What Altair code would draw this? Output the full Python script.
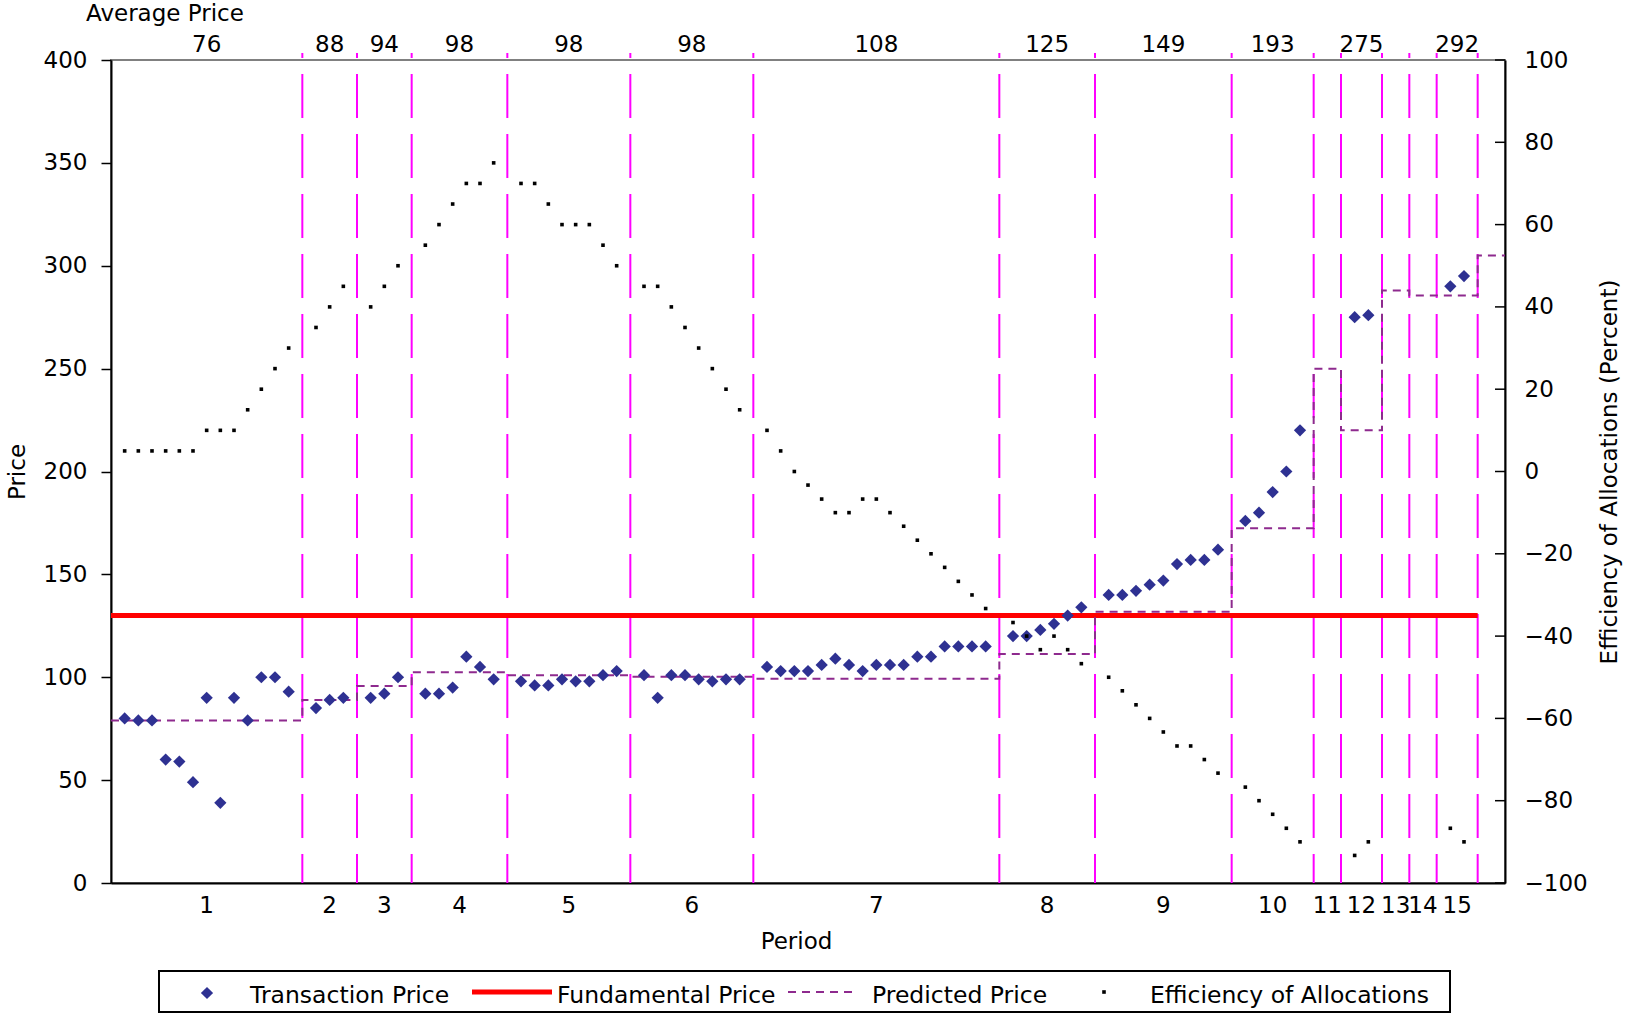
import altair as alt
import pandas as pd

# ---- data -------------------------------------------------------------
# Trade-sequence slots where each period ends (dashed dividers)
period_ends = [14, 18, 22, 29, 38, 47, 65, 72, 82, 88, 90, 93, 95, 97, 100]
period_names = [str(i) for i in range(1, 16)]
x_max = 102

# Transaction prices per period (empty = no trades in that period)
prices = [
    [80, 79, 79, 60, 59, 49, 90, 39, 90, 79, 100, 100, 93],
    [85, 89, 90],
    [90, 92, 100],
    [92, 92, 95, 110, 105, 99],
    [98, 96, 96, 99, 98, 98, 101, 103],
    [101, 90, 101, 101, 99, 98, 99, 99],
    [105, 103, 103, 103, 106, 109, 106, 103, 106, 106, 106, 110, 110, 115, 115, 115, 115],
    [120, 120, 123, 126, 130, 134],
    [140, 140, 142, 145, 147, 155, 157, 157, 162],
    [176, 180, 190, 200, 220],
    [],
    [275, 276],
    [],
    [],
    [290, 295],
]

# Efficiency of allocations (percent) after each trade
efficiency = [
    [5, 5, 5, 5, 5, 5, 10, 10, 10, 15, 20, 25, 30],
    [35, 40, 45],
    [40, 45, 50],
    [55, 60, 65, 70, 70, 75],
    [70, 70, 65, 60, 60, 60, 55, 50],
    [45, 45, 40, 35, 30, 25, 20, 15],
    [10, 5, 0, -3.3, -6.7, -10, -10, -6.7, -6.7, -10, -13.3, -16.7, -20, -23.3, -26.7, -30, -33.3],
    [-36.7, -40, -43.3, -40, -43.3, -46.7],
    [-50, -53.3, -56.7, -60, -63.3, -66.7, -66.7, -70, -73.3],
    [-76.7, -80, -83.3, -86.7, -90],
    [],
    [-93.3, -90],
    [],
    [],
    [-86.7, -90],
]

# Average transaction price shown above each period ("" = no trades)
average_labels = ["76", "88", "94", "98", "98", "98", "108", "125", "149", "193",
                  "", "275", "", "", "292"]

# Predicted price for each period, plus the level after the last divider
predicted_price = [79, 89, 95.7, 102.4, 101, 100.3, 99.3, 111.3, 131.8, 172.4,
                   250, 220, 288, 285.6, 285.6]
predicted_after = 305

fundamental_price = 130

price_ticks = list(range(0, 401, 50))
eff_ticks = list(range(-100, 101, 20))

# ---- tables -----------------------------------------------------------
starts = [0] + period_ends[:-1]
trade_rows = []
for start, pp, ee in zip(starts, prices, efficiency):
    for i, (p, e) in enumerate(zip(pp, ee)):
        trade_rows.append({"slot": start + 1 + i, "price": p, "eff": e})
trades_df = pd.DataFrame(trade_rows)

period_df = pd.DataFrame({
    "name": period_names,
    "center": [(a + b) / 2 for a, b in zip(starts, period_ends)],
    "avg": average_labels,
})
avg_df = period_df[period_df["avg"] != ""]

bound_df = pd.DataFrame({"slot": period_ends})
pred_df = pd.DataFrame({
    "slot": [0] + period_ends + [x_max],
    "price": predicted_price + [predicted_after, predicted_after],
})
fund_df = pd.DataFrame({"start": [0], "end": [period_ends[-1]], "price": [fundamental_price]})
eff_tick_df = pd.DataFrame({"tick": eff_ticks})
one = pd.DataFrame({"k": [0]})

# ---- styling ----------------------------------------------------------
W, H = 1394, 823
FONT = "DejaVu Sans"
FS = 23
LEG_FS = 23.5
NAVY = "#2E3192"
MAGENTA = "#FF00FF"
PURPLE = "#8E2A8E"
DIAMOND = 150
DOT = 13

x_scale = alt.Scale(domain=[0, x_max], nice=False, zero=False)
x_axis = alt.Axis(title="Period", labels=False, ticks=False, grid=False,
                  domainColor="black", domainWidth=2,
                  titleX=685, titleY=65, titleBaseline="alphabetic")
p_scale = alt.Scale(domain=[0, 400], nice=False)
p_axis = alt.Axis(title="Price", values=price_ticks, tickSize=10, tickWidth=1.5,
                  tickColor="black", labelPadding=14, grid=False,
                  domainColor="black", domainWidth=2,
                  titleX=-94, titleY=H / 2, titleAngle=270,
                  titleAlign="center", titleBaseline="middle")
e_scale = alt.Scale(domain=[-100, 100], nice=False)
e_axis = alt.Axis(title="Efficiency of Allocations (Percent)", orient="right",
                  values=eff_ticks, ticks=False, tickSize=0, labelPadding=19,
                  labelAlign="left", grid=False,
                  domainColor="black", domainWidth=2,
                  titleX=104, titleY=H / 2, titleAngle=270,
                  titleAlign="center", titleBaseline="middle")


def X(field):
    return alt.X(f"{field}:Q", scale=x_scale, axis=x_axis)


def P(field):
    return alt.Y(f"{field}:Q", scale=p_scale, axis=p_axis)


def E(field):
    return alt.Y(f"{field}:Q", scale=e_scale, axis=e_axis)


def label(text, x, y, size=FS, align="left"):
    return alt.Chart(one).mark_text(
        text=text, font=FONT, fontSize=size, color="black",
        align=align, baseline="alphabetic"
    ).encode(x=alt.value(x), y=alt.value(y))


# ---- price layers -----------------------------------------------------
dividers = alt.Chart(bound_df).mark_rule(
    color=MAGENTA, strokeWidth=2, strokeDash=[44, 16], strokeDashOffset=39
).encode(x=X("slot"), y=alt.value(-7), y2=alt.value(H))

fundamental = alt.Chart(fund_df).mark_rule(color="#FF0000", strokeWidth=5).encode(
    x=X("start"), x2="end", y=P("price")
)

predicted = alt.Chart(pred_df).mark_line(
    interpolate="step-after", color=PURPLE, strokeWidth=2, strokeDash=[8, 6]
).encode(x=X("slot"), y=P("price"))

transactions = alt.Chart(trades_df).mark_point(
    shape="diamond", filled=True, size=DIAMOND, color=NAVY, opacity=1
).encode(x=X("slot"), y=P("price"))

avg_text = alt.Chart(avg_df).mark_text(
    font=FONT, fontSize=FS, color="black", align="center", baseline="alphabetic"
).encode(x=X("center"), y=alt.value(-8), text="avg:N")

period_text = alt.Chart(period_df).mark_text(
    font=FONT, fontSize=FS, color="black", align="center", baseline="alphabetic"
).encode(x=X("center"), y=alt.value(H + 30), text="name:N")

avg_title = label("Average Price", -25, -39)

# ---- legend -----------------------------------------------------------
LY = 932
legend_box = alt.Chart(one).mark_rect(
    fillOpacity=0, stroke="black", strokeWidth=2
).encode(x=alt.value(48), x2=alt.value(1339), y=alt.value(911), y2=alt.value(952))
leg_diamond = alt.Chart(one).mark_point(
    shape="diamond", filled=True, size=DIAMOND, color=NAVY, opacity=1
).encode(x=alt.value(96), y=alt.value(LY + 1))
leg_red = alt.Chart(one).mark_rule(color="#FF0000", strokeWidth=5).encode(
    x=alt.value(361), x2=alt.value(441), y=alt.value(LY)
)
leg_pred = alt.Chart(one).mark_rule(color=PURPLE, strokeWidth=2, strokeDash=[8, 6]).encode(
    x=alt.value(677), x2=alt.value(745), y=alt.value(LY)
)
leg_dot = alt.Chart(one).mark_point(
    shape="square", filled=True, size=DOT, color="black", opacity=1
).encode(x=alt.value(993), y=alt.value(LY))
leg_texts = [
    label("Transaction Price", 139, 942.5, LEG_FS),
    label("Fundamental Price", 446, 942.5, LEG_FS),
    label("Predicted Price", 761, 942.5, LEG_FS),
    label("Efficiency of Allocations", 1039, 942.5, LEG_FS),
]

price_group = alt.layer(
    dividers, fundamental, predicted, transactions,
    avg_text, period_text, avg_title,
    legend_box, leg_diamond, leg_red, leg_pred, leg_dot, *leg_texts,
)

# ---- efficiency layers ------------------------------------------------
eff_dots = alt.Chart(trades_df).mark_point(
    shape="square", filled=True, size=DOT, color="black", opacity=1
).encode(x=X("slot"), y=E("eff"))

eff_tick_marks = alt.Chart(eff_tick_df).mark_rule(color="black", strokeWidth=1.5).encode(
    x=alt.value(W - 10), x2=alt.value(W), y=E("tick")
)

eff_group = alt.layer(eff_dots, eff_tick_marks)

chart = alt.layer(price_group, eff_group).resolve_scale(y="independent").properties(
    width=W,
    height=H,
    autosize=alt.AutoSizeParams(type="none"),
    padding={"left": 111, "top": 60, "right": 1627 - 111 - W, "bottom": 1016 - 60 - H},
    background="white",
).configure_view(
    stroke="#808080", strokeWidth=2
).configure_axis(
    labelFont=FONT, labelFontSize=FS, labelColor="black",
    titleFont=FONT, titleFontSize=FS, titleFontWeight="normal", titleColor="black",
)

chart.save("out.html", embed_options={"renderer": "svg", "actions": False})
